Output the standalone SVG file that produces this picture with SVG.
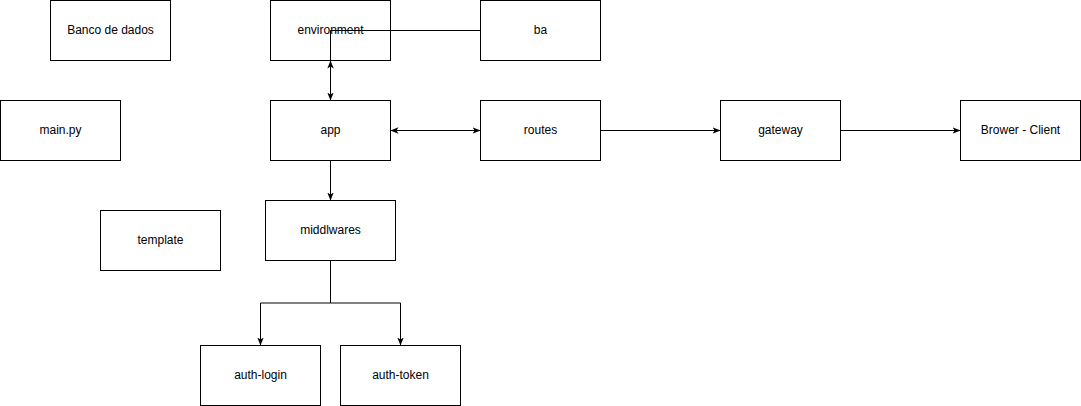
<svg xmlns="http://www.w3.org/2000/svg" width="1081" height="406" viewBox="0 0 1081 406">
<style>
.box{fill:#fff;stroke:#000;stroke-width:1}
.lbl{font-family:"Liberation Sans",Arial,sans-serif;font-size:12px;fill:#000;text-anchor:middle;dominant-baseline:central}
.edge{fill:none;stroke:#000;stroke-width:1}
</style>
<defs>
<marker id="arr" viewBox="0 0 10 10" refX="10" refY="5" markerWidth="8" markerHeight="8" markerUnits="userSpaceOnUse" orient="auto-start-reverse">
<path d="M0,1 L10,5 L0,9 L2.5,5 Z" fill="#000"/>
</marker>
</defs>
<rect width="1081" height="406" fill="#fff"/>
<g id="banco"><rect class="box" x="50.5" y="0.5" width="120" height="60"/><text class="lbl" x="110.5" y="29.5">Banco de dados</text></g>
<g id="environment"><rect class="box" x="270.5" y="0.5" width="120" height="60"/><text class="lbl" x="330.5" y="29.5">environment</text></g>
<g id="ba"><rect class="box" x="480.5" y="0.5" width="120" height="60"/><text class="lbl" x="540.5" y="29.5">ba</text></g>
<g id="mainpy"><rect class="box" x="0.5" y="100.5" width="120" height="60"/><text class="lbl" x="60.5" y="129.5">main.py</text></g>
<g id="app"><rect class="box" x="270.5" y="100.5" width="120" height="60"/><text class="lbl" x="330.5" y="129.5">app</text></g>
<g id="routes"><rect class="box" x="480.5" y="100.5" width="120" height="60"/><text class="lbl" x="540.5" y="129.5">routes</text></g>
<g id="gateway"><rect class="box" x="720.5" y="100.5" width="120" height="60"/><text class="lbl" x="780.5" y="129.5">gateway</text></g>
<g id="client"><rect class="box" x="960.5" y="100.5" width="120" height="60"/><text class="lbl" x="1020.5" y="129.5">Brower - Client</text></g>
<g id="template"><rect class="box" x="100.5" y="210.5" width="120" height="60"/><text class="lbl" x="160.5" y="239.5">template</text></g>
<g id="middlwares"><rect class="box" x="265.5" y="200.5" width="130" height="60"/><text class="lbl" x="330.5" y="229.5">middlwares</text></g>
<g id="authlogin"><rect class="box" x="200.5" y="345.5" width="120" height="60"/><text class="lbl" x="260.5" y="374.5">auth-login</text></g>
<g id="authtoken"><rect class="box" x="340.5" y="345.5" width="120" height="60"/><text class="lbl" x="400.5" y="374.5">auth-token</text></g>
<g id="connectors">
<path class="edge" d="M480.5,30.5 H330.5 V60.5"/>
<path class="edge" d="M330.5,60.5 V100.5" marker-start="url(#arr)" marker-end="url(#arr)"/>
<path class="edge" d="M390.5,130.5 H480.5" marker-start="url(#arr)" marker-end="url(#arr)"/>
<path class="edge" d="M600.5,130.5 H720.5" marker-end="url(#arr)"/>
<path class="edge" d="M840.5,130.5 H960.5" marker-end="url(#arr)"/>
<path class="edge" d="M330.5,160.5 V200.5" marker-end="url(#arr)"/>
<path class="edge" d="M330.5,260.5 V303 H260.5 V345.5" marker-end="url(#arr)"/>
<path class="edge" d="M330.5,303 H400.5 V345.5" marker-end="url(#arr)"/>
</g>
</svg>
